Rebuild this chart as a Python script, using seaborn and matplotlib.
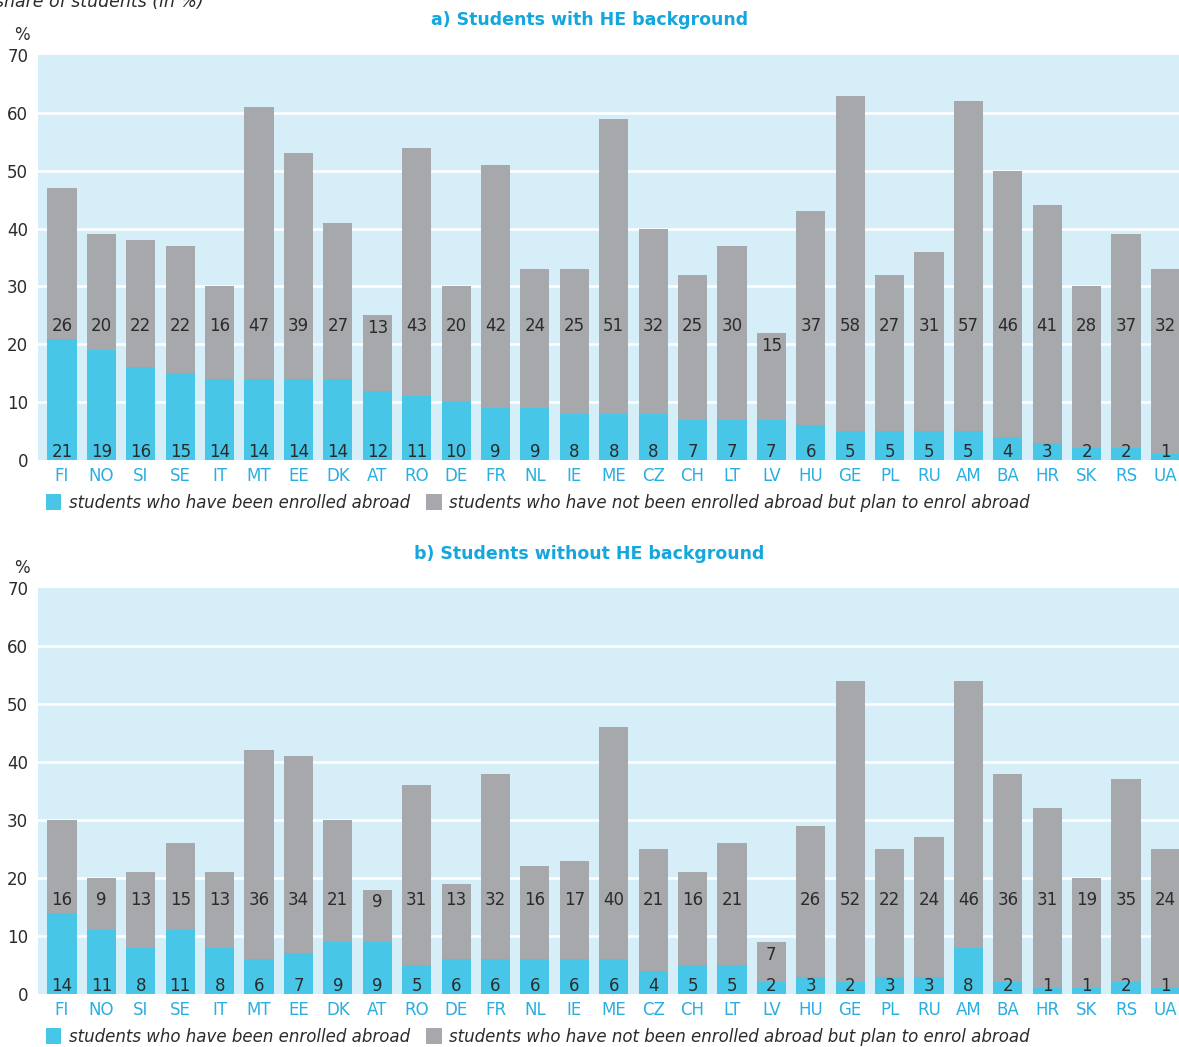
import matplotlib
matplotlib.use("Agg")
import matplotlib.pyplot as plt
import seaborn as sns
import pandas as pd
from matplotlib.patches import Patch

countries = ["FI", "NO", "SI", "SE", "IT", "MT", "EE", "DK", "AT", "RO", "DE", "FR", "NL", "IE",
             "ME", "CZ", "CH", "LT", "LV", "HU", "GE", "PL", "RU", "AM", "BA", "HR", "SK", "RS", "UA"]

# a) students with higher-education background
he_enrolled = [21, 19, 16, 15, 14, 14, 14, 14, 12, 11, 10, 9, 9, 8, 8, 8, 7, 7, 7, 6, 5, 5, 5, 5, 4, 3, 2, 2, 1]
he_plan = [26, 20, 22, 22, 16, 47, 39, 27, 13, 43, 20, 42, 24, 25, 51, 32, 25, 30, 15, 37, 58, 27, 31, 57, 46, 41, 28, 37, 32]

# b) students without higher-education background
nohe_enrolled = [14, 11, 8, 11, 8, 6, 7, 9, 9, 5, 6, 6, 6, 6, 6, 4, 5, 5, 2, 3, 2, 3, 3, 8, 2, 1, 1, 2, 1]
nohe_plan = [16, 9, 13, 15, 13, 36, 34, 21, 9, 31, 13, 32, 16, 17, 40, 21, 16, 21, 7, 26, 52, 22, 24, 46, 36, 31, 19, 35, 24]

legend_labels = ["students who have been enrolled abroad",
                 "students who have not been enrolled abroad but plan to enrol abroad"]

CYAN = "#48c6e8"
GREY = "#a7a8ab"
BG = "#d6eef7"
TITLE = "#14a6dc"
TICK = "#2aaee0"
TEXT = "#2b2b2b"

sns.set_theme(style="white")
plt.rcParams["font.family"] = ["DejaVu Sans"]

fig = plt.figure(figsize=(11.79, 10.47), dpi=100)

panels = [
    ("a) Students with HE background", he_enrolled, he_plan, [0.0322, 0.5606, 0.968, 0.3868], 23.1, 0.981, 0.5195),
    ("b) Students without HE background", nohe_enrolled, nohe_plan, [0.0322, 0.0506, 0.968, 0.3878], 16.2, 0.471, 0.0095),
]

for title, enrolled, plan, rect, label_y, title_y, legend_y in panels:
    ax = fig.add_axes(rect)
    df = pd.DataFrame({"country": countries, "enrolled": enrolled, "plan": plan})
    df["total"] = df["enrolled"] + df["plan"]

    ax.set_facecolor(BG)
    for v in range(10, 70, 10):
        ax.axhline(v, color="white", lw=1.8, zorder=0.5)

    sns.barplot(data=df, x="country", y="total", color=GREY, width=0.74,
                saturation=1, linewidth=0, ax=ax, zorder=2)
    sns.barplot(data=df, x="country", y="enrolled", color=CYAN, width=0.74,
                saturation=1, linewidth=0, ax=ax, zorder=3)

    for i, row in df.iterrows():
        ty = min(label_y, row["total"] - 2.2)
        ax.text(i, ty, str(row["plan"]), ha="center", va="center",
                fontsize=12, color=TEXT, zorder=5)
        ax.text(i, 1.35, str(row["enrolled"]), ha="center", va="center",
                fontsize=12, color=TEXT, zorder=5)

    ax.set_ylim(0, 70)
    ax.set_xlim(-0.61, 28.35)
    ax.set_yticks(range(0, 71, 10))
    ax.set_xlabel("")
    ax.set_ylabel("")
    ax.tick_params(axis="y", length=0, labelsize=12, labelcolor=TEXT, pad=7)
    ax.tick_params(axis="x", length=0, labelsize=12, labelcolor=TICK, pad=5)
    for s in ax.spines.values():
        s.set_visible(False)

    top = rect[1] + rect[3]
    fig.text(0.019, top + 0.019, "%", fontsize=12, color=TEXT, ha="center", va="center")
    fig.text(0.5, title_y, title, fontsize=12.5, fontweight="bold", color=TITLE,
             ha="center", va="center")

    handles = [Patch(facecolor=CYAN, edgecolor="none"), Patch(facecolor=GREY, edgecolor="none")]
    fig.legend(handles, legend_labels, loc="center left", bbox_to_anchor=(0.026, legend_y), ncol=2,
               frameon=False, handlelength=0.95, handleheight=1.1,
               handletextpad=0.45, columnspacing=0.95,
               prop={"style": "italic", "size": 12})
    for t in fig.legends[-1].get_texts():
        t.set_color(TEXT)

fig.text(-0.004, 0.998, "share of students (in %)", fontsize=12.5, style="italic",
         color=TEXT, ha="left", va="center")

fig.savefig("out.png", dpi=100)
